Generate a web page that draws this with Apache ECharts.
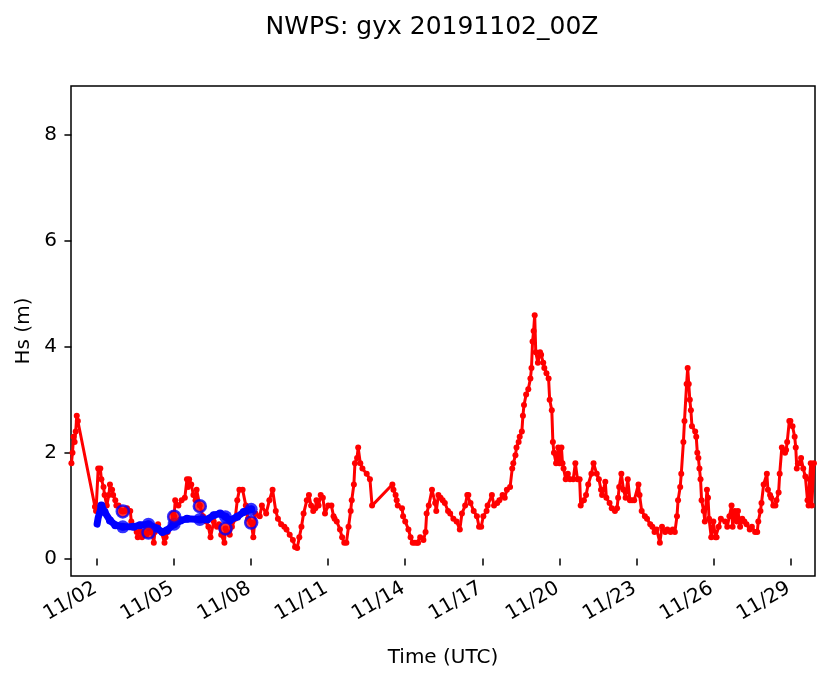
<!DOCTYPE html>
<html><head><meta charset="utf-8">
<script src="https://cdn.jsdelivr.net/npm/echarts@6/dist/echarts.min.js"></script>
<style>html,body{margin:0;padding:0;background:#fff}#c{width:833px;height:681px}</style>
</head><body><div id="c"></div>
<script>
// ---- data (x = hours since 2019-11-01 00Z, y = Hs in m) ----
const titleText = 'NWPS: gyx 20191102_00Z';
const xTickLabels = ['11/02','11/05','11/08','11/11','11/14','11/17','11/20','11/23','11/26','11/29'];
const yTickValues = [0, 2, 4, 6, 8];

const obsSeries = [
[0,1.8],[1,2.0],[2,2.3],[3,2.2],[4,2.4],[5,2.7],[6,2.6],[22,0.98],[23,0.9],[25,1.7],[27,1.7],[28,1.5],[30,1.35],[31,1.2],[33,1.0],[35,1.2],[36,1.4],[38,1.3],[39,1.2],[41,1.1],[42,1.0],[44,1.0],[47,0.9],
[48,0.89],[50,0.9],[52,0.95],[55,0.9],[56,0.7],[58,0.6],[59,0.6],[61,0.5],[62,0.4],[64,0.6],[66,0.4],[67,0.5],[70,0.45],
[72,0.49],[73,0.5],[75,0.5],[77,0.3],[78,0.5],[80,0.6],[81,0.65],[84,0.5],[87,0.3],[88,0.4],[90,0.5],[94,0.65],[95,0.85],
[96,0.8],[97,1.1],[100,1.0],[103,1.1],[106,1.15],[108,1.5],[109,1.35],[110,1.5],[112,1.4],[114,1.2],[116,1.1],[117,1.3],
[120,1.0],[123,0.8],[126,0.7],[128,0.6],[130,0.4],[133,0.7],[136,0.6],[138,0.65],[140,0.45],[143,0.3],
[144,0.57],[146,0.5],[148,0.45],[150,0.6],[153,0.75],[155,1.1],[157,1.3],[160,1.3],[163,1.0],[165,0.75],
[168,0.68],[170,0.4],[172,0.85],[176,0.8],[178,1.0],[182,0.85],[185,1.1],[188,1.3],[191,0.9],
[193,0.75],[196,0.65],[199,0.6],[201,0.55],[204,0.45],[207,0.35],[209,0.22],[211,0.2],[213,0.4],
[215,0.6],[217,0.85],[220,1.1],[222,1.2],[224,1.0],[226,0.9],[228,0.95],[229,1.1],[231,1.0],[233,1.2],[235,1.15],[237,0.85],
[240,1.0],[243,1.0],[245,0.8],[246,0.75],[248,0.7],[251,0.55],[253,0.4],[255,0.3],[257,0.3],[259,0.6],[261,0.9],[262,1.1],
[264,1.4],[265,1.8],[267,1.9],[268,2.1],[270,1.8],[272,1.7],[276,1.6],[279,1.5],[281,1.0],
[300,1.4],[301,1.3],[303,1.2],[304,1.1],[305,1.0],[309,0.95],[310,0.8],[312,0.7],[315,0.55],[317,0.4],[319,0.3],[321,0.3],[323,0.3],[324,0.3],[326,0.4],[329,0.35],[331,0.5],[332,0.85],[334,1.0],
[337,1.3],[340,1.05],[341,0.9],[343,1.2],[345,1.15],[347,1.1],[349,1.05],[352,0.9],[354,0.85],[357,0.75],
[360,0.7],[363,0.55],[365,0.85],[368,1.0],[370,1.2],[371,1.2],[373,1.05],[376,0.9],[379,0.8],[381,0.6],[383,0.6],
[385,0.8],[388,0.9],[389,1.0],[393,1.2],[395,1.0],[398,1.05],[400,1.1],[403,1.2],[405,1.15],[407,1.3],
[410,1.35],[412,1.7],[413,1.8],[415,1.95],[416,2.1],[418,2.2],[419,2.3],[421,2.4],[422,2.7],[423,2.9],[425,3.1],[427,3.2],[429,3.4],
[430,3.6],[431,4.1],[432,4.3],[433,4.6],[434,3.9],[436,3.7],[438,3.9],[439,3.85],[441,3.7],[442,3.6],[444,3.5],[446,3.4],
[447,3.0],[449,2.8],[450,2.2],[451,2.0],[453,1.8],[455,2.1],[456,1.8],[457,1.8],[458,2.1],[459,1.8],[460,1.7],[462,1.5],
[464,1.6],[466,1.5],[469,1.5],[471,1.8],[473,1.5],[475,1.5],[476,1.0],[479,1.1],[481,1.2],[483,1.4],[486,1.6],[488,1.8],
[491,1.6],[493,1.5],[495,1.3],[496,1.2],[499,1.45],[500,1.15],[503,1.05],[505,0.95],[508,0.9],[510,0.95],[511,1.15],[512,1.35],
[514,1.6],[516,1.3],[518,1.15],[520,1.5],[522,1.1],[524,1.1],[526,1.1],[530,1.4],[531,1.2],[533,0.9],[536,0.8],[538,0.75],
[541,0.65],[543,0.6],[545,0.5],[547,0.55],[550,0.3],[552,0.6],[555,0.5],[557,0.55],[560,0.5],[562,0.55],[564,0.5],
[566,0.8],[567,1.1],[569,1.35],[570,1.6],[572,2.2],[573,2.6],[575,3.3],[576,3.6],[577,3.3],[578,3.0],[579,2.8],[580,2.5],
[583,2.4],[584,2.3],[585,2.0],[586,1.9],[587,1.7],[588,1.5],[589,1.1],[591,0.9],[592,0.7],[594,1.3],[595,1.15],[596,0.75],
[598,0.4],[600,0.7],[602,0.4],[603,0.4],[605,0.6],[607,0.75],[611,0.7],[613,0.6],[615,0.8],[617,1.0],[618,0.6],[620,0.9],
[622,0.7],[623,0.9],[625,0.6],[627,0.75],[629,0.7],[631,0.65],[634,0.55],[636,0.6],[639,0.5],[641,0.5],[642,0.7],[644,0.9],
[645,1.05],[647,1.4],[650,1.6],[651,1.3],[653,1.2],[654,1.15],[656,1.0],[658,1.0],[659,1.1],[661,1.25],[662,1.6],[664,2.1],
[667,2.0],[668,2.05],[669,2.2],[671,2.6],[672,2.6],[674,2.5],[676,2.3],[677,2.1],[678,1.7],[679,1.8],[681,1.8],[682,1.9],
[684,1.7],[686,1.55],[688,1.1],[689,1.0],[690,1.5],[691,1.8],[692,1.0],[694,1.8]
];

const modelSeries = [
[24,0.65],[25,0.77],[27,0.91],[28,1.0],[31,0.88],[36,0.72],[41,0.63],[48,0.6],[58,0.6],[64,0.63],[72,0.65],
[80,0.57],[85,0.5],[89,0.53],[96,0.65],[102,0.72],[108,0.75],[120,0.74],[127,0.74],[133,0.82],[139,0.85],
[144,0.79],[148,0.72],[155,0.79],[161,0.88],[168,0.93]
];

const dailyHours = [48, 72, 96, 120, 144, 168];
const dailyModelHs = [0.6, 0.65, 0.65, 0.74, 0.79, 0.93];
const dailyObsHs = [0.89, 0.49, 0.79, 0.99, 0.57, 0.68];

// ---- chart ----
const FONT = 'DejaVu Sans';
const base = Date.UTC(2019, 10, 1);
const tickHours = xTickLabels.map(s => (parseInt(s.split('/')[1], 10) - 1) * 24);
function fmtHour(h) {
  const d = new Date(base + h * 3600000);
  const mm = String(d.getUTCMonth() + 1).padStart(2, '0');
  const dd = String(d.getUTCDate()).padStart(2, '0');
  return mm + '/' + dd;
}

const chart = echarts.init(document.getElementById('c'), null, {renderer: 'canvas'});
chart.setOption({
  animation: false,
  backgroundColor: '#fff',
  textStyle: {fontFamily: FONT},
  title: {
    text: titleText, left: 427, top: 10, textAlign: 'center',
    textStyle: {fontFamily: FONT, fontSize: 25, fontWeight: 'normal', color: '#000'}
  },
  grid: {left: 71, right: 18, top: 86, bottom: 105, show: true, borderColor: '#000', borderWidth: 1.5, backgroundColor: 'transparent'},
  xAxis: {
    type: 'value', min: -0.4, max: 695,
    name: 'Time (UTC)', nameLocation: 'middle', nameGap: 72,
    nameTextStyle: {fontFamily: FONT, fontSize: 20, color: '#000'},
    axisLine: {show: false},
    splitLine: {show: false},
    axisTick: {show: true, customValues: tickHours, length: 7, lineStyle: {color: '#000', width: 1.5}},
    axisLabel: {customValues: tickHours, formatter: v => fmtHour(v), rotate: 30, margin: 10,
      padding: [0, 2, 0, 0], fontFamily: FONT, fontSize: 20, color: '#000'}
  },
  yAxis: {
    type: 'value', min: -0.33, max: 8.93,
    name: 'Hs (m)', nameLocation: 'middle', nameGap: 37, nameRotate: 90,
    nameTextStyle: {fontFamily: FONT, fontSize: 20, color: '#000'},
    axisLine: {show: false},
    splitLine: {show: false},
    axisTick: {show: true, customValues: yTickValues, length: 7, lineStyle: {color: '#000', width: 1.5}},
    axisLabel: {customValues: yTickValues, margin: 14, fontFamily: FONT, fontSize: 20, color: '#000'}
  },
  series: [
    {
      type: 'line', data: obsSeries, z: 2, showAllSymbol: true,
      symbol: 'circle', symbolSize: 6,
      lineStyle: {color: '#ff0000', width: 3},
      itemStyle: {color: '#ff0000'}
    },
    {
      type: 'line', data: modelSeries, z: 3, showAllSymbol: true,
      symbol: 'circle', symbolSize: (v, p) => (p.dataIndex < 3 ? 4 + p.dataIndex : 8),
      lineStyle: {color: '#0000ff', width: 7, cap: 'round', join: 'round'},
      itemStyle: {color: '#0000ff'}
    },
    {
      type: 'scatter', z: 4, symbol: 'circle', symbolSize: 13,
      data: dailyHours.map((h, i) => [h, dailyModelHs[i]]),
      itemStyle: {color: '#0000ff'}
    },
    {
      type: 'scatter', z: 5, symbol: 'circle', symbolSize: 12,
      data: dailyHours.map((h, i) => [h, dailyObsHs[i]]),
      itemStyle: {color: '#ff0000', borderColor: '#0000ff', borderWidth: 2.5}
    }
  ]
});
</script>
</body></html>
